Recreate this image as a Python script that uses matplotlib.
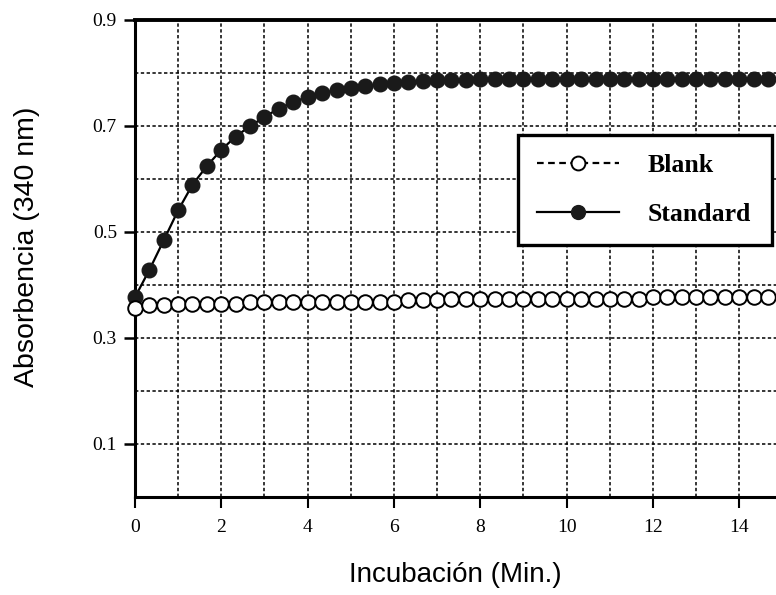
import matplotlib
matplotlib.use("Agg")
import matplotlib.pyplot as plt
from matplotlib.ticker import MultipleLocator

time_min = [0.0, 0.33, 0.67, 1.0, 1.33, 1.67, 2.0, 2.33, 2.67, 3.0, 3.33, 3.67,
            4.0, 4.33, 4.67, 5.0, 5.33, 5.67, 6.0, 6.33, 6.67, 7.0, 7.33, 7.67,
            8.0, 8.33, 8.67, 9.0, 9.33, 9.67, 10.0, 10.33, 10.67, 11.0, 11.33,
            11.67, 12.0, 12.33, 12.67, 13.0, 13.33, 13.67, 14.0, 14.33, 14.67]

standard = [0.377, 0.428, 0.485, 0.541, 0.589, 0.625, 0.655, 0.680, 0.700, 0.717,
            0.733, 0.745, 0.755, 0.762, 0.768, 0.772, 0.775, 0.779, 0.781, 0.783,
            0.784, 0.786, 0.787, 0.787, 0.788, 0.789, 0.789, 0.789, 0.789, 0.789,
            0.789, 0.789, 0.789, 0.789, 0.789, 0.789, 0.789, 0.789, 0.789, 0.789,
            0.789, 0.789, 0.789, 0.789, 0.789]

blank = [0.357, 0.362, 0.362, 0.365, 0.364, 0.364, 0.365, 0.364, 0.368, 0.367,
         0.367, 0.367, 0.368, 0.367, 0.367, 0.368, 0.367, 0.367, 0.368, 0.372,
         0.372, 0.372, 0.373, 0.373, 0.373, 0.373, 0.373, 0.373, 0.373, 0.373,
         0.373, 0.373, 0.373, 0.373, 0.373, 0.373, 0.377, 0.377, 0.377, 0.377,
         0.377, 0.377, 0.377, 0.377, 0.377]

x_ticks = [0, 2, 4, 6, 8, 10, 12, 14]
y_ticks = [0.1, 0.3, 0.5, 0.7, 0.9]

W, H = 776, 595
fig = plt.figure(figsize=(W / 100, H / 100), dpi=100)
left, right, top, bottom = 135, 776, 20, 497
ax = fig.add_axes([left / W, 1 - bottom / H, (right - left) / W, (bottom - top) / H])

ax.set_xlim(0, 14.85)
ax.set_ylim(0, 0.9)

ax.xaxis.set_minor_locator(MultipleLocator(1))
ax.yaxis.set_minor_locator(MultipleLocator(0.1))
ax.set_xticks(x_ticks)
ax.set_yticks(y_ticks)
ax.set_xticklabels([str(v) for v in x_ticks], family="Liberation Serif", fontsize=14)
ax.set_yticklabels([f"{v:.1f}" for v in y_ticks], family="Liberation Serif", fontsize=14)
ax.grid(which="both", color="black", linestyle=(0, (2.2, 1.6)), linewidth=1.1)
ax.set_axisbelow(True)
ax.tick_params(axis="both", which="minor", length=0)
ax.tick_params(axis="y", which="major", direction="out", length=8, width=1.8, pad=5)
ax.tick_params(axis="x", which="major", direction="out", length=8, width=1.5, pad=8)

for s in ["left", "bottom"]:
    ax.spines[s].set_linewidth(2.2)
    ax.spines[s].set_color("black")
ax.spines["top"].set_linewidth(2.8)
ax.spines["right"].set_visible(False)

ax.plot(time_min, standard, color="black", linestyle="-", linewidth=1.6,
        marker="o", markersize=10.5, markerfacecolor="#1a1a1a",
        markeredgecolor="#1a1a1a", label="Standard", zorder=3, clip_on=False)
ax.plot(time_min, blank, color="black", linestyle=(0, (3, 2)), linewidth=1.6,
        marker="o", markersize=10.5, markerfacecolor="white",
        markeredgecolor="black", markeredgewidth=1.4, label="Blank", zorder=4,
        clip_on=False)

handles, labels = ax.get_legend_handles_labels()
leg = ax.legend(handles[::-1], labels[::-1], loc="upper left",
                bbox_to_anchor=(518 / W, 1 - 135 / H, (772 - 518) / W, 0.0),
                bbox_transform=fig.transFigure, mode="expand",
                prop={"family": "Liberation Serif", "weight": "bold", "size": 18.5},
                frameon=True, fancybox=False, handlelength=3.2, handletextpad=1.1,
                borderpad=0.75, labelspacing=1.0, borderaxespad=0, markerscale=0.95)
leg.get_frame().set_edgecolor("black")
leg.get_frame().set_linewidth(2.4)
leg.get_frame().set_facecolor("white")
leg.get_frame().set_alpha(1)
leg.set_zorder(10)

fig.text(27 / W, 1 - 247 / H, "Absorbencia (340 nm)", rotation=90, ha="center",
         va="center", family="Liberation Sans", fontsize=20.5)
fig.text(455 / W, 1 - 575 / H, "Incubación (Min.)", ha="center", va="center",
         family="Liberation Sans", fontsize=20)

fig.savefig("out.png", dpi=100)
